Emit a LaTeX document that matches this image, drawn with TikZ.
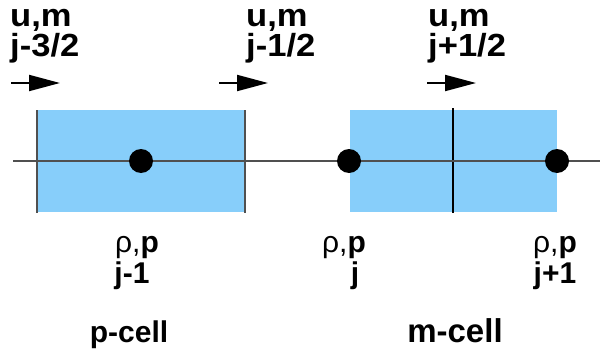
\documentclass[tikz,border=0pt]{standalone}
\usepackage{fontspec}
\setmainfont{Liberation Sans}
\usetikzlibrary{arrows.meta}
\definecolor{cellblue}{RGB}{135,206,250}
\definecolor{axisgray}{RGB}{80,80,80}
\tikzset{
  toplab/.style={anchor=base west, inner sep=0pt, xscale=1.08, transform shape,
    font=\fontsize{32}{32}\selectfont\bfseries},
  upline/.style={toplab, text depth=0pt},
  lowline/.style={toplab, text height=23pt},
  botlab/.style={anchor=base, inner sep=0pt,
    font=\fontsize{30}{30}\selectfont\bfseries},
  biglab/.style={botlab, font=\fontsize{33}{33}\selectfont\bfseries},
  flux/.style={line width=2pt, -{Triangle[length=31pt,width=16pt]}},
  dot/.style={circle, fill=black, minimum size=24pt, inner sep=0pt},
  cellfill/.style={fill=cellblue, draw=none},
  edge/.style={draw=axisgray, line width=1.5pt},
}
\begin{document}
\begin{tikzpicture}[x=1pt,y=-1pt]
\useasboundingbox (0,0) rectangle (600,356);
% cells
\fill[cellfill] (37,110) rectangle (245,212);
\fill[cellfill] (350,110) rectangle (557,212);
\draw[edge] (37,110) -- (37,213);
\draw[edge] (245,110) -- (245,213);
\draw[black, line width=1.2pt] (453,108) -- (453,213);
% axis
\coordinate (axL) at (13,161);
\coordinate (axR) at (600,161);
\draw[edge] (axL) -- (axR);
% dots
\node[dot] (d1) at (141,161) {};
\node[dot] (d2) at (349,161) {};
\node[dot] (d3) at (557,161) {};
% arrows
\coordinate (a1s) at (11,83); \coordinate (a1e) at (60,83);
\coordinate (a2s) at (219,83); \coordinate (a2e) at (268,83);
\coordinate (a3s) at (427,83); \coordinate (a3e) at (476,83);
\draw[flux] (a1s) -- (a1e);
\draw[flux] (a2s) -- (a2e);
\draw[flux] (a3s) -- (a3e);
% top labels
\node[upline] (t1a) at (10,27) {u,m};
\node[lowline] (t1b) at (10,56) {j-3/2};
\node[upline] (t2a) at (246,27) {u,m};
\node[lowline] (t2b) at (246,56) {j-1/2};
\node[upline] (t3a) at (428,27) {u,m};
\node[lowline] (t3b) at (428,56) {j+1/2};
% bottom labels
\node[botlab] (r1) at (137,252) {\mdseries ρ,\bfseries p};
\node[botlab] (j1) at (132,283) {j-1};
\node[botlab] (c1) at (129,342) {p-cell};
\node[botlab] (r2) at (344,252) {\mdseries ρ,\bfseries p};
\node[botlab] (j2) at (355,283) {j};
\node[botlab] (r3) at (555,252) {\mdseries ρ,\bfseries p};
\node[botlab] (j3) at (555,283) {j+1};
\node[biglab] (c2) at (455,342) {m-cell};
\end{tikzpicture}
\end{document}
